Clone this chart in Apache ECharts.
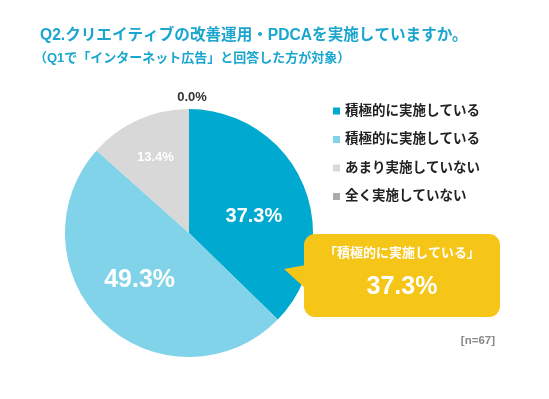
<!DOCTYPE html>
<html><head><meta charset="utf-8">
<script src="https://cdn.jsdelivr.net/npm/echarts@6/dist/echarts.min.js"></script>
<style>html,body{margin:0;padding:0;background:#fff}#c{width:549px;height:399px}</style>
</head><body><div id="c"></div>
<script>
const titleText = 'Q2.クリエイティブの改善運用・PDCAを実施していますか。';
const subtitleText = '（Q1で「インターネット広告」と回答した方が対象）';
const categories = ['積極的に実施している', '積極的に実施している', 'あまり実施していない', '全く実施していない'];
const values = [37.3, 49.3, 13.4, 0.0];
const colors = ['#00A9CF', '#80D3E8', '#D8D8D8', '#ABABAB'];
const sampleNote = '[n=67]';
const calloutIndex = 0;

const FONT = '"Liberation Sans", "Noto Sans CJK JP", sans-serif';
const labelStyles = [
  {color: '#fff', fontSize: 20, position: 'inside'},
  {color: '#fff', fontSize: 25, position: 'inside'},
  {color: '#fff', fontSize: 13, position: 'inside'},
  {color: '#333', fontSize: 13, position: 'outside'}
];
const labelNudges = [[5, 9], [-5, 0], [-7, -16], [3, 0]];

const pieData = values.map((v, i) => ({
  name: i + ':' + categories[i],
  value: v,
  itemStyle: {color: colors[i]},
  label: Object.assign({fontWeight: 'bold', fontFamily: FONT}, labelStyles[i]),
  labelLine: {show: false, length: 12, length2: 0}
}));

const chart = echarts.init(document.getElementById('c'), null, {renderer: 'canvas'});
chart.setOption({
  backgroundColor: '#fff',
  animation: false,
  title: [
    {text: titleText, left: 35, top: 22, padding: 5,
     textStyle: {color: '#1AA6CF', fontSize: 15.6, fontWeight: 'bold', fontFamily: FONT, lineHeight: 18}},
    {text: subtitleText, left: 29, top: 45, padding: 5,
     textStyle: {color: '#1AA6CF', fontSize: 13, fontWeight: 'bold', fontFamily: FONT, lineHeight: 16}}
  ],
  legend: {
    orient: 'vertical', left: 328, top: 99,
    icon: 'rect', itemWidth: 7, itemHeight: 7, itemGap: 14.5,
    selectedMode: false,
    formatter: name => name.slice(name.indexOf(':') + 1),
    textStyle: {color: '#222', fontSize: 13.5, fontWeight: 'bold', fontFamily: FONT, lineHeight: 14}
  },
  graphic: [
    {type: 'polygon', shape: {points: [[284, 269], [306, 265], [306, 289]]}, style: {fill: '#F5C518'}, z: 10},
    {type: 'rect', shape: {x: 304, y: 234, width: 196, height: 83, r: 11}, style: {fill: '#F5C518'}, z: 10},
    {type: 'text', x: 402, y: 253, z: 11,
     style: {text: '「' + categories[calloutIndex] + '」', fill: '#fff', font: 'bold 13px ' + FONT, align: 'center', verticalAlign: 'middle'}},
    {type: 'text', x: 402, y: 287, z: 11,
     style: {text: values[calloutIndex].toFixed(1) + '%', fill: '#fff', font: 'bold 25px ' + FONT, align: 'center', verticalAlign: 'middle'}},
    {type: 'text', x: 495, y: 341, z: 11,
     style: {text: sampleNote, fill: '#888', font: 'bold 11.5px ' + FONT, align: 'right', verticalAlign: 'middle'}}
  ],
  series: [{
    type: 'pie',
    center: [189, 233],
    radius: [0, 124],
    startAngle: 90,
    clockwise: true,
    avoidLabelOverlap: false,
    label: {formatter: p => p.value.toFixed(1) + '%', distanceToLabelLine: 0},
    labelLayout: p => {
      const n = labelNudges[p.dataIndex];
      const r = {dx: n[0], dy: n[1]};
      if (p.dataIndex === 3) r.align = 'center';
      return r;
    },
    data: pieData
  }]
});
</script></body></html>
